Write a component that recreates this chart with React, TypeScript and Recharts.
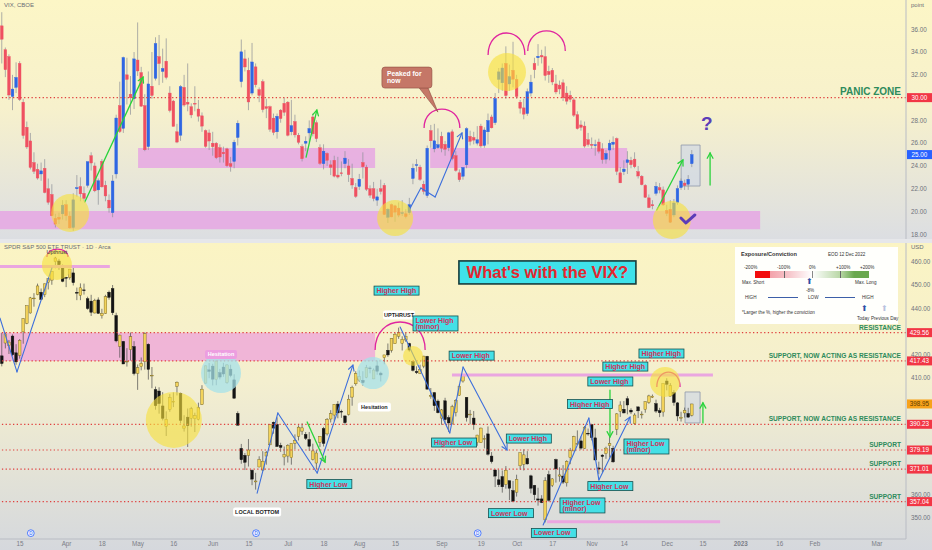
import React from "react";
import { ComposedChart, Bar, XAxis, YAxis, ReferenceLine, ReferenceArea, ReferenceDot } from "recharts";

type C = [number, number, number, number];

// daily candles [open, high, low, close]; first = 7 Mar 2022, last = 12 Dec 2022
// x is the trading-day index, 9 Mar 2022 = 0
const FIRST = -2;

const vixCandles: C[] = [
  // Mar
  [31.9, 37.0, 31.5, 36.45], [36.3, 37.5, 33.0, 35.13], [34.2, 34.4, 31.8, 32.45], [33.6, 33.8, 29.8, 30.23],
  [30.1, 32.0, 28.9, 30.75], [30.9, 33.1, 30.4, 31.77], [33.0, 33.2, 29.7, 29.83], [29.6, 29.9, 26.4, 26.67],
  [27.4, 27.9, 25.5, 25.67], [26.2, 26.9, 23.7, 23.87], [24.3, 25.2, 23.3, 23.53], [23.7, 24.2, 22.8, 22.94],
  [23.3, 24.3, 22.7, 23.57], [23.8, 24.6, 21.6, 21.67], [22.0, 22.9, 20.6, 20.81], [21.5, 22.4, 19.6, 19.63],
  [19.4, 19.8, 18.6, 18.9], [19.5, 19.9, 18.9, 19.33], [19.8, 21.0, 19.3, 20.56],
  // Apr
  [20.6, 21.0, 19.2, 19.63], [19.6, 20.0, 18.5, 18.57], [18.6, 21.6, 18.3, 21.03], [22.0, 23.2, 21.3, 22.1],
  [22.2, 23.0, 20.9, 21.55], [21.6, 22.2, 20.9, 21.16], [22.3, 24.4, 22.1, 24.37], [24.9, 25.2, 23.6, 24.26],
  [24.0, 24.3, 21.7, 21.82], [21.9, 22.9, 20.6, 22.7], [24.4, 24.6, 22.1, 22.17], [22.3, 22.7, 20.9, 21.37],
  [21.0, 21.5, 19.9, 20.32], [19.9, 23.2, 19.5, 22.68], [23.3, 28.5, 22.9, 28.21], [29.3, 31.4, 26.9, 27.02],
  [27.3, 33.6, 26.9, 33.52], [32.0, 33.5, 29.4, 31.6], [30.3, 31.9, 28.5, 29.99], [29.9, 34.0, 29.0, 33.4],
  // May
  [33.3, 36.6, 31.9, 32.34], [32.2, 32.7, 29.2, 29.25], [29.3, 30.3, 25.3, 25.42], [25.7, 32.3, 25.4, 31.2],
  [31.0, 34.0, 29.9, 30.19], [31.7, 35.3, 31.5, 34.75], [33.6, 35.5, 31.1, 32.99], [32.3, 34.3, 31.3, 32.56],
  [33.2, 35.2, 31.6, 31.77], [30.4, 31.0, 28.7, 28.87], [29.7, 29.8, 27.5, 27.47], [27.0, 27.7, 26.0, 26.1],
  [26.7, 31.1, 26.2, 30.96], [30.9, 32.0, 29.2, 29.35], [29.6, 33.0, 28.8, 29.43], [29.2, 29.5, 28.2, 28.48],
  [29.5, 31.0, 28.8, 29.45], [29.0, 29.8, 27.9, 28.37], [28.4, 28.7, 27.0, 27.5], [27.1, 27.2, 25.6, 25.72],
  [26.9, 27.2, 25.4, 26.19],
  // Jun
  [26.0, 27.0, 24.9, 25.69], [26.0, 26.1, 24.6, 24.72], [25.6, 25.9, 24.3, 24.79], [25.2, 25.7, 24.3, 25.07],
  [25.5, 25.6, 23.9, 24.02], [24.2, 24.8, 23.5, 23.96], [24.4, 26.3, 23.8, 26.09], [26.5, 28.0, 25.8, 27.75],
  [31.4, 35.1, 30.9, 34.02], [33.4, 34.2, 32.3, 32.69], [32.4, 33.5, 28.9, 29.62], [30.4, 34.8, 30.2, 33.13],
  [32.7, 33.0, 30.9, 31.13], [30.7, 30.9, 29.6, 30.19], [31.4, 31.6, 28.7, 28.95], [29.2, 29.9, 28.2, 29.05],
  [29.2, 29.3, 27.0, 27.23], [28.2, 28.6, 26.7, 26.95], [27.0, 28.6, 26.4, 28.36], [28.9, 29.0, 27.8, 28.16],
  [29.5, 30.0, 28.4, 28.71],
  // Jul
  [29.6, 29.7, 26.6, 26.7], [27.0, 29.8, 26.7, 27.54], [27.9, 28.5, 26.5, 26.73], [26.7, 26.9, 25.9, 26.08],
  [25.7, 25.9, 24.4, 24.64], [26.0, 26.6, 25.3, 26.17], [26.9, 28.0, 26.1, 27.29], [28.3, 28.6, 26.6, 26.82],
  [27.8, 28.0, 26.1, 26.4], [25.6, 25.9, 24.1, 24.23], [24.2, 25.9, 23.7, 25.3], [25.1, 25.2, 24.0, 24.5],
  [24.1, 24.5, 23.2, 23.88], [24.5, 24.9, 23.0, 23.11], [23.2, 24.8, 22.9, 23.03], [23.4, 24.4, 23.1, 23.36],
  [24.2, 25.3, 23.8, 24.69], [24.0, 24.6, 22.6, 23.24], [22.9, 24.2, 22.0, 22.33], [22.1, 22.5, 21.2, 21.33],
  // Aug
  [22.2, 23.3, 21.9, 22.84], [24.3, 25.2, 22.9, 23.93], [23.9, 24.1, 21.8, 21.95], [22.0, 22.3, 21.2, 21.44],
  [22.0, 22.6, 20.9, 21.15], [21.0, 22.0, 20.5, 21.29], [22.0, 22.8, 21.5, 21.77], [22.3, 22.5, 19.7, 19.74],
  [19.5, 20.3, 19.0, 20.2], [20.6, 20.7, 19.5, 19.53], [20.5, 20.6, 19.1, 19.95], [20.3, 20.8, 19.5, 19.69],
  [19.9, 21.0, 19.6, 19.9], [19.8, 20.2, 19.4, 19.56], [19.9, 21.2, 19.7, 20.6], [22.9, 24.2, 22.4, 23.8],
  [24.1, 24.6, 23.5, 24.11], [23.9, 24.1, 22.7, 22.82], [22.4, 22.7, 21.5, 21.78], [21.4, 25.8, 21.2, 25.56],
  [27.1, 27.6, 25.6, 26.21], [25.5, 27.7, 25.2, 26.21], [25.6, 27.3, 25.5, 25.87],
  // Sep
  [26.6, 27.0, 25.2, 25.56], [25.9, 26.2, 24.9, 25.47], [25.6, 27.0, 25.3, 26.91], [27.0, 27.2, 24.5, 24.64],
  [24.9, 25.3, 23.5, 23.61], [23.4, 23.7, 22.6, 22.79], [23.1, 23.9, 22.8, 23.87], [24.1, 27.4, 23.8, 27.27],
  [26.6, 27.1, 25.8, 26.16], [26.5, 27.0, 25.9, 26.27], [26.0, 27.5, 25.8, 26.3], [27.5, 27.7, 25.6, 25.76],
  [25.8, 27.4, 25.6, 27.16], [27.0, 28.6, 25.9, 27.99], [28.3, 28.5, 27.3, 27.35], [27.8, 30.4, 27.6, 29.92],
  [31.6, 32.6, 30.4, 32.26], [31.3, 33.0, 30.6, 32.6], [33.0, 34.5, 29.9, 30.18], [31.2, 32.9, 30.6, 31.84],
  [32.4, 34.9, 30.9, 31.62],
  // Oct
  [31.6, 32.0, 29.9, 30.1], [29.6, 29.8, 28.6, 29.07], [29.1, 29.9, 28.1, 28.55], [28.6, 30.8, 28.4, 30.52],
  [30.4, 32.0, 30.1, 31.36], [33.0, 33.5, 31.7, 32.45], [33.5, 34.7, 32.8, 33.63], [33.7, 34.2, 33.0, 33.57],
  [33.6, 34.5, 31.5, 31.94], [32.3, 32.8, 31.3, 32.02], [32.4, 32.6, 31.1, 31.37], [31.2, 32.0, 30.3, 30.5],
  [31.1, 31.5, 30.3, 30.76], [31.3, 31.6, 29.7, 29.98], [30.4, 31.0, 29.4, 29.69], [30.2, 30.6, 29.6, 29.85],
  [29.8, 30.0, 28.3, 28.46], [28.5, 28.8, 27.2, 27.28], [27.6, 28.0, 27.1, 27.39], [27.5, 27.9, 25.6, 25.75],
  [26.3, 26.9, 25.7, 25.88],
  // Nov
  [25.9, 26.5, 25.5, 25.81], [25.8, 26.3, 24.9, 25.86], [26.1, 26.4, 25.1, 25.3], [25.5, 26.0, 24.2, 24.55],
  [24.6, 25.4, 24.2, 25.1], [25.4, 26.3, 24.5, 26.0], [25.9, 26.6, 25.4, 26.09], [26.4, 26.5, 23.2, 23.53],
  [23.4, 23.9, 22.5, 22.52], [23.5, 24.5, 23.2, 23.73], [24.3, 25.3, 23.3, 24.54], [24.5, 24.8, 23.8, 24.11],
  [24.6, 25.2, 23.8, 23.93], [23.5, 24.0, 22.9, 23.12], [23.1, 23.2, 22.3, 22.36], [22.3, 22.4, 21.2, 21.25],
  [21.2, 21.5, 20.3, 20.35], [20.6, 21.0, 20.2, 20.5], [21.6, 22.6, 21.4, 22.21], [22.1, 22.5, 21.6, 21.89],
  [21.9, 22.2, 20.5, 20.58],
  // Dec
  [20.1, 20.6, 19.6, 19.84], [20.2, 21.0, 19.0, 19.06], [19.7, 21.1, 19.5, 20.75], [20.8, 22.3, 20.6, 22.01],
  [22.1, 22.9, 21.9, 22.68], [22.5, 22.8, 21.9, 22.29], [22.4, 23.2, 21.9, 22.83], [24.2, 25.4, 23.9, 25.0],
];

const spyCandles: C[] = [
  // Mar
  [431.6, 432.3, 419.4, 419.4], [419.6, 429.5, 415.1, 416.3], [425.1, 429.5, 422.8, 429.0], [424.0, 426.4, 420.4, 425.5],
  [428.1, 428.8, 419.5, 420.1], [420.9, 424.6, 415.8, 417.0], [419.8, 426.8, 418.4, 426.2], [429.9, 435.7, 424.8, 435.6],
  [433.6, 441.1, 433.2, 441.1], [438.0, 444.9, 437.7, 444.5], [444.3, 446.5, 440.7, 444.4], [445.9, 450.6, 445.6, 449.6],
  [446.9, 448.5, 443.7, 443.8], [445.9, 450.6, 444.8, 450.5], [451.2, 452.9, 448.1, 452.7], [452.1, 455.9, 450.1, 455.9],
  [460.0, 462.1, 457.2, 461.6], [460.3, 461.2, 456.5, 458.7], [457.9, 458.8, 451.2, 451.6],
  // Apr
  [453.3, 453.5, 449.1, 452.9], [453.1, 456.9, 452.3, 456.8], [455.2, 457.8, 449.8, 451.0], [446.9, 448.9, 443.5, 446.5],
  [445.6, 450.7, 443.5, 448.8], [447.9, 450.6, 445.9, 447.6], [444.1, 445.0, 439.4, 439.9], [443.1, 445.8, 436.7, 438.3],
  [438.0, 444.1, 437.8, 443.3], [443.6, 444.7, 437.7, 437.8], [436.8, 439.8, 435.6, 437.8], [437.9, 445.8, 437.7, 445.0],
  [446.9, 447.6, 443.7, 444.7], [448.5, 450.0, 437.1, 438.1], [436.9, 438.1, 425.4, 426.0], [423.7, 428.7, 418.8, 428.5],
  [425.8, 426.0, 416.1, 416.1], [417.2, 422.9, 415.0, 417.3], [422.3, 429.6, 417.6, 427.8], [423.6, 425.9, 411.2, 412.0],
  // May
  [412.1, 415.9, 405.0, 414.5], [415.0, 418.9, 413.4, 416.4], [417.1, 429.7, 413.7, 429.1], [424.6, 425.0, 409.4, 413.8],
  [411.1, 414.8, 405.7, 411.3], [405.1, 406.4, 396.5, 398.2], [404.5, 406.1, 394.8, 399.1], [398.1, 404.0, 391.9, 392.8],
  [389.4, 395.8, 385.2, 392.3], [396.7, 403.2, 395.6, 401.7], [399.9, 403.9, 397.6, 400.1], [406.5, 408.6, 402.6, 408.3],
  [403.5, 403.8, 390.6, 391.9], [388.6, 394.1, 387.1, 389.5], [393.3, 397.0, 380.5, 389.6], [392.8, 397.7, 389.2, 396.9],
  [392.6, 395.2, 386.9, 393.9], [392.3, 399.5, 391.9, 397.4], [398.7, 407.0, 398.5, 405.3], [407.9, 415.4, 407.7, 415.3],
  [413.6, 416.5, 410.0, 412.9],
  // Jun
  [415.2, 416.2, 406.9, 409.6], [409.4, 417.4, 407.0, 417.4], [412.4, 414.0, 409.5, 410.5], [414.8, 416.6, 410.6, 411.8],
  [408.1, 416.0, 407.6, 415.7], [413.9, 415.8, 410.4, 411.2], [409.3, 411.7, 401.4, 401.4], [394.9, 395.8, 389.8, 389.8],
  [379.9, 381.8, 373.3, 375.0], [376.9, 377.9, 370.6, 373.9], [376.9, 383.9, 372.1, 379.2], [370.5, 370.9, 364.1, 366.7],
  [365.5, 369.4, 362.2, 365.9], [371.9, 376.5, 371.8, 375.1], [370.6, 378.7, 370.2, 374.4], [376.6, 378.8, 372.9, 378.1],
  [381.4, 390.1, 381.4, 390.1], [391.1, 391.4, 386.2, 388.6], [390.2, 393.2, 380.5, 380.7], [381.2, 382.3, 378.4, 380.3],
  [376.2, 380.7, 372.6, 377.3],
  // Jul
  [376.6, 381.7, 373.8, 381.2], [375.9, 382.0, 372.9, 382.0], [382.1, 385.9, 379.6, 383.3], [385.1, 389.8, 383.3, 389.0],
  [387.3, 390.6, 385.7, 388.7], [385.9, 386.9, 383.5, 384.2], [383.7, 386.9, 378.8, 380.8], [375.1, 381.9, 374.7, 378.8],
  [373.6, 379.1, 371.0, 377.9], [382.5, 385.2, 380.5, 385.1], [388.4, 389.1, 380.7, 382.0], [386.1, 392.9, 385.4, 392.3],
  [392.5, 396.3, 391.0, 394.8], [394.2, 398.8, 391.6, 398.8], [398.9, 400.2, 392.8, 395.1], [395.8, 396.5, 393.0, 395.6],
  [393.8, 394.1, 389.9, 390.9], [394.4, 402.9, 394.0, 401.0], [401.9, 406.8, 398.2, 406.1], [407.6, 413.0, 406.8, 412.0],
  // Aug
  [409.2, 413.4, 408.4, 410.8], [409.1, 413.0, 406.8, 408.1], [410.3, 415.7, 410.0, 414.5], [414.4, 415.1, 412.1, 414.2],
  [409.7, 414.2, 409.6, 413.5], [415.3, 417.6, 411.5, 413.0], [412.2, 412.8, 408.6, 411.4], [418.8, 420.0, 416.0, 420.0],
  [422.0, 424.9, 419.2, 420.0], [422.0, 427.2, 421.0, 427.1], [424.8, 429.4, 424.7, 428.9], [428.0, 431.7, 426.9, 429.7],
  [425.0, 428.0, 421.9, 426.7], [426.4, 429.5, 425.6, 427.9], [424.9, 425.2, 421.4, 422.1], [417.1, 417.4, 412.9, 413.4],
  [412.9, 415.1, 411.8, 412.4], [412.1, 415.8, 411.8, 413.7], [415.2, 419.6, 414.3, 419.5], [419.4, 419.6, 405.3, 405.3],
  [402.2, 405.8, 401.2, 402.6], [403.8, 404.1, 396.0, 398.2], [400.2, 400.9, 394.9, 395.2],
  // Sep
  [392.9, 396.8, 390.0, 396.4], [400.3, 401.6, 390.3, 392.2], [393.1, 394.1, 386.9, 390.8], [390.4, 398.6, 390.2, 397.8],
  [395.3, 401.0, 393.6, 400.4], [402.7, 407.5, 402.5, 406.6], [408.8, 411.7, 408.1, 411.0], [401.8, 401.8, 391.4, 393.1],
  [394.5, 396.4, 390.2, 394.6], [392.9, 395.9, 387.9, 390.1], [382.3, 385.7, 381.0, 385.6], [382.3, 388.8, 382.2, 388.6],
  [384.0, 385.5, 379.9, 384.1], [386.1, 389.3, 376.8, 377.4], [376.6, 378.3, 373.4, 374.2], [370.6, 370.9, 363.3, 368.0],
  [366.4, 370.7, 363.3, 364.3], [367.8, 370.4, 360.9, 363.4], [364.4, 372.3, 362.6, 370.5], [366.0, 366.1, 357.7, 362.8],
  [361.8, 365.9, 357.0, 357.2],
  // Oct
  [361.1, 368.6, 359.2, 366.6], [372.4, 378.0, 370.8, 378.0], [373.1, 379.5, 370.4, 377.1], [375.6, 378.7, 373.0, 373.2],
  [368.1, 368.6, 360.6, 362.8], [364.0, 364.2, 357.7, 360.0], [358.2, 363.0, 355.3, 357.7], [358.2, 359.8, 356.4, 356.6],
  [349.2, 367.5, 348.1, 366.0], [368.6, 370.3, 357.0, 357.6], [364.0, 367.1, 363.3, 366.8], [375.1, 375.5, 365.2, 371.1],
  [368.0, 371.8, 365.6, 368.5], [368.0, 372.7, 364.6, 365.4], [365.1, 374.8, 363.5, 374.3], [375.9, 380.1, 373.1, 378.9],
  [378.8, 385.3, 378.7, 384.9], [381.6, 387.6, 381.4, 382.0], [383.1, 385.0, 379.3, 380.0], [379.9, 389.5, 379.7, 389.0],
  [386.4, 388.4, 385.3, 386.2],
  // Nov
  [390.1, 390.4, 383.3, 384.5], [384.4, 388.3, 374.8, 374.9], [371.5, 374.2, 368.8, 371.0], [377.0, 377.4, 369.6, 376.4],
  [377.7, 380.6, 375.4, 380.0], [381.1, 385.1, 375.9, 382.0], [379.9, 381.0, 373.7, 374.1], [388.1, 395.0, 385.6, 394.7],
  [395.8, 400.1, 393.4, 398.5], [396.7, 400.2, 394.9, 395.1], [401.2, 402.3, 394.5, 398.5], [396.3, 397.1, 394.6, 395.5],
  [390.5, 395.0, 390.0, 394.2], [397.7, 397.8, 392.9, 396.0], [394.6, 395.8, 392.7, 394.6], [396.6, 400.0, 395.2, 399.9],
  [399.6, 402.9, 399.0, 402.4], [401.8, 403.0, 401.5, 402.3], [399.1, 400.8, 395.1, 395.9], [396.1, 397.3, 393.3, 395.2],
  [395.5, 407.7, 393.5, 407.7],
  // Dec
  [408.8, 410.0, 404.8, 407.4], [402.3, 407.9, 402.3, 406.9], [403.9, 404.9, 398.2, 399.6], [399.4, 399.8, 391.6, 393.8],
  [392.9, 395.6, 391.4, 393.2], [395.1, 397.4, 393.1, 396.2], [394.9, 397.3, 393.1, 393.3], [394.1, 399.0, 393.6, 398.95],
];

const tickIndex = [4, 17, 27, 37, 47, 58, 68, 79, 89, 99, 109, 122, 133, 143, 153, 164, 173, 185, 195, 205.6, 216.5, 226.3, 243.7];
const tickLabels = ["15", "Apr", "18", "May", "16", "Jun", "15", "Jul", "18", "Aug", "15", "Sep", "19", "Oct", "17", "Nov", "14", "Dec", "15", "2023", "16", "Feb", "Mar"];

const vixTicks = [18, 20, 22, 24, 26, 28, 32, 34, 36];
const spyTicks = [350, 360, 410, 420, 440, 450, 460];

const vixPanic = 30;
const vixLast = 25.0;
const spyLast = 398.95;
const spyLevels = [429.56, 417.43, 390.23, 379.19, 371.01, 357.04];
const spyLevelNotes = ["RESISTANCE", "SUPPORT, NOW ACTING AS RESISTANCE", "SUPPORT, NOW ACTING AS RESISTANCE", "SUPPORT", "SUPPORT", "SUPPORT"];
const dividendDays = [7, 70, 132];

// drawings (x = trading-day index, y = price)
const vixZones = [[-1.7, 211, 18.45, 20.05], [37, 103.3, 23.82, 25.58], [118.7, 173.8, 23.82, 25.58]];
const vixCircles = [[18, 19.87, 19], [108.9, 19.43, 18], [140.2, 32.25, 19], [186.3, 19.26, 19]];
const vixGreen = [
  [[22.1, 20.84], [38.4, 31.8]],
  [[84, 24.78], [87, 28.9]],
  [[182.1, 20.13], [189.4, 24.52]],
  [[197, 22.33], [197, 25.14]],
];
const vixBlue = [[[113.1, 20.3], [116.1, 22.07], [120.1, 21.28], [127.6, 26.9]]];
const vixArcs = [[117, 127, 27.33, 19], [134.9, 145.2, 33.74, 22], [146, 156.5, 34.1, 20]];

const spyBands = [[-1.7, 29.1, 457.9], [124.8, 197.8, 411.4], [151.4, 199.8, 348.4]];
const spyYellow = [[14.3, 458.6, 15], [47, 392.1, 28], [184.4, 408.4, 15], [113.9, 419.5, 10]];
const spyCyan = [[60.2, 412.2, 20], [102.7, 412.2, 16]];
const spyArcs = [[11.5, 17.4, 462, 8], [103.3, 117.3, 422.1, 28], [182.1, 188.6, 406.2, 15]];
const spyBlue = [
  [[-1.62, 435.8], [3.13, 412.7], [12.9, 457.3]],
  [[70.3, 360.7], [76.1, 395.1], [87.1, 369.3], [97.1, 415.6]],
  [[110.3, 432], [124.2, 386.5], [127.9, 414.8], [140.2, 379.2]],
  [[150.3, 347], [163.1, 392.9], [165.9, 366.3], [174.6, 393.3]],
];
const spyGreen = [
  [[84.3, 391.2], [89.3, 374.0]],
  [[169, 404.9], [169, 384.8]],
  [[195, 390.8], [195, 399.4]],
];
const spyTags: [string[], number, number][] = [
  [["Higher High"], 109.3, 447.6],
  [["Lower High", "(minor)"], 120.2, 433.5],
  [["Lower High"], 130.3, 419.7],
  [["Higher Low"], 125.4, 382.4],
  [["Lower High"], 146.3, 384.1],
  [["Higher Low"], 90.5, 364.6],
  [["Lower Low"], 141.3, 352.1],
  [["Lower Low"], 153.3, 343.6],
  [["Higher Low", "(minor)"], 161.3, 355.4],
  [["Higher High"], 163.4, 398.9],
  [["Higher Low"], 169.1, 363.7],
  [["Higher Low", "(minor)"], 179.2, 380.7],
  [["Lower High"], 169.1, 408.6],
  [["Higher High"], 173.3, 415.0],
  [["Higher High"], 183.4, 420.6],
];
const spyNotes: [string, number, number, number][] = [
  ["UPTHRUST", 110, 437.1, 32],
  ["Hesitation", 103.1, 397.6, 33],
  ["LOCAL BOTTOM", 70.3, 352.6, 48],
];

const X_MIN = -1.62;
const X_MAX = 251.8;
const W = 932;
const TOP_H = 239;
const BOT_H = 307;
const AXIS_W = 26;
const FONT = "'Liberation Sans', Arial, sans-serif";

const rows = (cs: C[]) => cs.map(([o, h, l, c], k) => ({ i: FIRST + k, o, h, l, c }));
const vixData = rows(vixCandles);
const spyData = rows(spyCandles);

const makeCandle = (up: string, down: string, wick: string, edgeUp: string, edgeDown: string) => (props: any) => {
  const { x, y, width, height, payload } = props;
  if (!payload || x == null) return <g />;
  const { o, h, l, c } = payload;
  const top = Math.min(y, y + height);
  const hgt = Math.abs(height);
  const span = h - l;
  const at = (v: number) => (span > 0 ? top + ((h - v) / span) * hgt : top);
  const mid = x + width / 2;
  const bTop = at(Math.max(o, c));
  const bH = Math.max(at(Math.min(o, c)) - bTop, 0.8);
  const rising = c >= o;
  return (
    <g>
      <line x1={mid} x2={mid} y1={top} y2={top + hgt} stroke={wick} strokeWidth={0.7} />
      <rect x={x} y={bTop} width={width} height={bH} fill={rising ? up : down} stroke={rising ? edgeUp : edgeDown} strokeWidth={0.4} />
    </g>
  );
};

const vixCandle = makeCandle("#2f66e3", "#ef5061", "#8c8f98", "#2f66e3", "#ef5061");
const spyCandle = makeCandle("#f3d35b", "#141414", "#4a4a4a", "#6b5a14", "#141414");

const segShape = (color: string, head: boolean, sw = 1.1) => (p: any) => {
  const { x1, y1, x2, y2 } = p;
  const a = Math.atan2(y2 - y1, x2 - x1);
  const L = 6;
  const h1 = [x2 - L * Math.cos(a - 0.5), y2 - L * Math.sin(a - 0.5)];
  const h2 = [x2 - L * Math.cos(a + 0.5), y2 - L * Math.sin(a + 0.5)];
  return (
    <g>
      <line x1={x1} y1={y1} x2={x2} y2={y2} stroke={color} strokeWidth={sw} strokeLinecap="round" />
      {head && (
        <path d={`M${h1[0]},${h1[1]} L${x2},${y2} L${h2[0]},${h2[1]}`} fill="none" stroke={color} strokeWidth={sw} strokeLinecap="round" />
      )}
    </g>
  );
};

const arcShape = (bulge: number) => (p: any) => {
  const { x1, y1, x2, y2 } = p;
  const k = (bulge * 4) / 3;
  return <path d={`M${x1},${y1} C${x1},${y1 - k} ${x2},${y2 - k} ${x2},${y2}`} fill="none" stroke="#e0259f" strokeWidth={1.3} />;
};

const tagShape = (lines: string[]) => (p: any) => {
  const { cx, cy } = p;
  const h = lines.length > 1 ? 15 : 9;
  const w = 45;
  return (
    <g>
      <rect x={cx - w / 2} y={cy - h / 2} width={w} height={h} fill="#44e0e6" stroke="#14504f" strokeWidth={0.8} />
      {lines.map((t, k) => (
        <text key={k} x={cx - w / 2 + 2.5} y={cy - h / 2 + 7 + k * 6.3} fontSize={7} fontWeight={700} fill="#d3305a" fontFamily={FONT}>
          {t}
        </text>
      ))}
    </g>
  );
};

const noteShape = (text: string, w: number, fill = "#ffffff", color = "#222") => (p: any) => {
  const { cx, cy } = p;
  return (
    <g>
      <rect x={cx - w / 2} y={cy - 4.5} width={w} height={9} rx={2} fill={fill} />
      <text x={cx} y={cy + 2} textAnchor="middle" fontSize={5.5} fontWeight={700} fill={color} fontFamily={FONT}>
        {text}
      </text>
    </g>
  );
};

const priceBox = (text: string, fill: string, color = "#fff") => (p: any) => {
  const { cx, cy } = p;
  return (
    <g>
      <rect x={cx + 1} y={cy - 4.5} width={AXIS_W - 1} height={9} fill={fill} />
      <text x={cx + 1 + (AXIS_W - 1) / 2} y={cy + 2.2} textAnchor="middle" fontSize={6.3} fill={color} fontFamily={FONT}>
        {text}
      </text>
    </g>
  );
};

const sideNote = (text: string, size = 6.6) => (p: any) => (
  <text x={p.cx - 5} y={p.cy - 3} textAnchor="end" fontSize={size} fontWeight={700} fill="#2e8b5c" fontFamily={FONT}>
    {text}
  </text>
);

const circleShape = (r: number, fill: string, op: number) => (p: any) => <circle cx={p.cx} cy={p.cy} r={r} fill={fill} fillOpacity={op} />;

const renderPath = (pts: number[][], color: string, head: boolean, key: string, sw = 1.1) =>
  pts.slice(1).map((pt, k) => (
    <ReferenceLine
      key={`${key}-${k}`}
      segment={[{ x: pts[k][0], y: pts[k][1] }, { x: pt[0], y: pt[1] }]}
      ifOverflow="visible"
      shape={segShape(color, head && k === pts.length - 2, sw)}
    />
  ));

const DateTick = (props: any) => {
  const { x, y, payload } = props;
  const k = tickIndex.indexOf(payload.value);
  const label = k >= 0 ? tickLabels[k] : "";
  return (
    <text x={x} y={y + 5} textAnchor="middle" fontSize={6.3} fill="#7b7e87" fontWeight={label === "2023" ? 700 : 400} fontFamily={FONT}>
      {label}
    </text>
  );
};

const axisTick = { fontSize: 6.3, fill: "#6f727c", fontFamily: FONT };

const VixPane = () => (
  <ComposedChart width={W} height={TOP_H} data={vixData} margin={{ top: 0, right: 0, bottom: 0, left: 0 }}>
    <XAxis dataKey="i" type="number" domain={[X_MIN, X_MAX]} allowDataOverflow hide />
    <YAxis
      orientation="right"
      width={AXIS_W}
      domain={[17.59, 38.57]}
      allowDataOverflow
      ticks={vixTicks}
      tickFormatter={(v: number) => v.toFixed(2)}
      tick={axisTick}
      tickLine={false}
      tickSize={3}
      tickMargin={2}
      axisLine={{ stroke: "#b9bcc4" }}
    />
    {vixZones.map(([x1, x2, y1, y2], k) => (
      <ReferenceArea key={`z${k}`} x1={x1} x2={x2} y1={y1} y2={y2} fill="#e6a3e3" fillOpacity={0.8} stroke="none" ifOverflow="visible" />
    ))}
    <ReferenceArea x1={188.9} x2={194.2} y1={22.24} y2={25.84} fill="#c9d4ea" fillOpacity={0.55} stroke="#8d97aa" strokeWidth={0.8} ifOverflow="visible" />
    <Bar dataKey={(d: any) => [d.l, d.h]} barSize={2.7} shape={vixCandle} isAnimationActive={false} />
    <ReferenceLine y={vixPanic} stroke="#e0403f" strokeWidth={1.2} strokeDasharray="1.3 2.4" />
    {vixCircles.map(([x, y, r], k) => (
      <ReferenceDot key={`c${k}`} x={x} y={y} r={r} ifOverflow="visible" shape={circleShape(r, "#f7e13c", 0.62)} />
    ))}
    {vixGreen.map((pts, k) => renderPath(pts, "#29d33b", true, `g${k}`, 1.3))}
    {vixBlue.map((pts, k) => renderPath(pts, "#3d6fdc", true, `b${k}`))}
    {vixArcs.map(([x1, x2, y, b], k) => (
      <ReferenceLine key={`a${k}`} segment={[{ x: x1, y }, { x: x2, y }]} ifOverflow="visible" shape={arcShape(b)} />
    ))}
    <ReferenceDot
      x={112.2}
      y={31.76}
      r={1}
      ifOverflow="visible"
      shape={(p: any) => (
        <g>
          <path d={`M${p.cx + 12},${p.cy + 10} L${p.cx + 21},${p.cy + 10} L${p.cx + 31},${p.cy + 34.5} Z`} fill="#c57767" stroke="#8b4a3e" strokeWidth={0.6} />
          <rect x={p.cx - 25} y={p.cy - 10.5} width={50} height={21} rx={3} fill="#c57767" stroke="#8b4a3e" strokeWidth={0.6} />
          <text x={p.cx - 20} y={p.cy - 2} fontSize={6.8} fontWeight={700} fill="#fff" fontFamily={FONT}>Peaked for</text>
          <text x={p.cx - 20} y={p.cy + 5.5} fontSize={6.8} fontWeight={700} fill="#fff" fontFamily={FONT}>now</text>
        </g>
      )}
    />
    <ReferenceDot
      x={196.1}
      y={27.68}
      r={1}
      ifOverflow="visible"
      shape={(p: any) => (
        <text x={p.cx} y={p.cy + 6} textAnchor="middle" fontSize={19} fontWeight={900} fill="#5b3cb8" fontFamily={FONT}>?</text>
      )}
    />
    <ReferenceDot
      x={190.8}
      y={19.26}
      r={1}
      ifOverflow="visible"
      shape={(p: any) => (
        <path d={`M${p.cx - 7},${p.cy - 2} L${p.cx - 2},${p.cy + 3} L${p.cx + 7},${p.cy - 5}`} fill="none" stroke="#5b3cb8" strokeWidth={3} strokeLinecap="round" strokeLinejoin="round" />
      )}
    />
    <ReferenceDot x={X_MAX} y={vixPanic} r={1} ifOverflow="visible" shape={sideNote("PANIC ZONE", 10)} />
    <ReferenceDot x={X_MAX} y={vixPanic} r={1} ifOverflow="visible" shape={priceBox("30.00", "#f23645")} />
    <ReferenceDot x={X_MAX} y={vixLast} r={1} ifOverflow="visible" shape={priceBox("25.00", "#2962ff")} />
  </ComposedChart>
);

const SpyPane = () => (
  <ComposedChart width={W} height={BOT_H} data={spyData} margin={{ top: 0, right: 0, bottom: 0, left: 0 }}>
    <XAxis
      dataKey="i"
      type="number"
      domain={[X_MIN, X_MAX]}
      allowDataOverflow
      ticks={tickIndex}
      interval={0}
      tick={<DateTick />}
      tickLine={false}
      tickSize={0}
      height={11}
      axisLine={{ stroke: "#b9bcc4" }}
    />
    <YAxis
      orientation="right"
      width={AXIS_W}
      domain={[341, 468.03]}
      allowDataOverflow
      ticks={spyTicks}
      tickFormatter={(v: number) => v.toFixed(2)}
      tick={axisTick}
      tickLine={false}
      tickSize={3}
      tickMargin={2}
      axisLine={{ stroke: "#b9bcc4" }}
    />
    <ReferenceArea x1={-1.7} x2={103.3} y1={spyLevels[1]} y2={spyLevels[0]} fill="#eeaad8" fillOpacity={0.85} stroke="none" ifOverflow="visible" />
    <ReferenceArea x1={190} x2={194.2} y1={390.8} y2={404.1} fill="#c9d4ea" fillOpacity={0.55} stroke="#8d97aa" strokeWidth={0.8} ifOverflow="visible" />
    {spyBands.map(([x1, x2, y], k) => (
      <ReferenceLine key={`pb${k}`} segment={[{ x: x1, y }, { x: x2, y }]} stroke="#eaa6e0" strokeWidth={3} ifOverflow="visible" />
    ))}
    {spyCyan.map(([x, y, r], k) => (
      <ReferenceDot key={`cy${k}`} x={x} y={y} r={r} ifOverflow="visible" shape={circleShape(r, "#a6e2ea", 0.75)} />
    ))}
    <Bar dataKey={(d: any) => [d.l, d.h]} barSize={2.7} shape={spyCandle} isAnimationActive={false} />
    {spyLevels.map((v, k) => (
      <ReferenceLine key={`lv${k}`} y={v} stroke="#e0403f" strokeWidth={1.2} strokeDasharray="1.3 2.4" />
    ))}
    {spyYellow.map(([x, y, r], k) => (
      <ReferenceDot key={`yc${k}`} x={x} y={y} r={r} ifOverflow="visible" shape={circleShape(r, "#f7e13c", 0.62)} />
    ))}
    {spyBlue.map((pts, k) => renderPath(pts, "#3d6fdc", k > 0, `sb${k}`))}
    {spyGreen.map((pts, k) => renderPath(pts, "#29d33b", true, `sg${k}`, 1.3))}
    {spyArcs.map(([x1, x2, y, b], k) => (
      <ReferenceLine key={`sa${k}`} segment={[{ x: x1, y }, { x: x2, y }]} ifOverflow="visible" shape={arcShape(b)} />
    ))}
    <ReferenceDot
      x={14.3}
      y={464}
      r={1}
      ifOverflow="visible"
      shape={(p: any) => (
        <text x={p.cx} y={p.cy + 2} textAnchor="middle" fontSize={5.5} fill="#333" fontFamily={FONT}>Upthrust</text>
      )}
    />
    <ReferenceDot x={60.2} y={420.2} r={1} ifOverflow="visible" shape={noteShape("Hesitation", 32, "#ec9ee0", "#fff")} />
    {spyNotes.map(([t, x, y, w], k) => (
      <ReferenceDot key={`n${k}`} x={x} y={y} r={1} ifOverflow="visible" shape={noteShape(t, w)} />
    ))}
    {spyTags.map(([lines, x, y], k) => (
      <ReferenceDot key={`t${k}`} x={x} y={y} r={1} ifOverflow="visible" shape={tagShape(lines)} />
    ))}
    <ReferenceDot
      x={151.5}
      y={455.4}
      r={1}
      ifOverflow="visible"
      shape={(p: any) => (
        <g>
          <rect x={p.cx - 88.5} y={p.cy - 11.5} width={177} height={23} fill="#3fe2ea" stroke="#163c3c" strokeWidth={1.6} />
          <text x={p.cx} y={p.cy + 6} textAnchor="middle" fontSize={16.5} fontWeight={700} fill="#e3262e" fontFamily={FONT}>
            What's with the VIX?
          </text>
        </g>
      )}
    />
    {dividendDays.map((d, k) => (
      <ReferenceDot
        key={`d${k}`}
        x={d}
        y={343.5}
        r={3.5}
        ifOverflow="visible"
        shape={(p: any) => (
          <g>
            <circle cx={p.cx} cy={p.cy} r={3.4} fill="#eef1fb" stroke="#2962ff" strokeWidth={0.8} />
            <text x={p.cx} y={p.cy + 1.6} textAnchor="middle" fontSize={4.5} fill="#2962ff" fontFamily={FONT}>D</text>
          </g>
        )}
      />
    ))}
    {spyLevels.map((v, k) => (
      <ReferenceDot key={`sn${k}`} x={X_MAX} y={v} r={1} ifOverflow="visible" shape={sideNote(spyLevelNotes[k])} />
    ))}
    {spyLevels.map((v, k) => (
      <ReferenceDot key={`pbx${k}`} x={X_MAX} y={v} r={1} ifOverflow="visible" shape={priceBox(v.toFixed(2), "#f23645")} />
    ))}
    <ReferenceDot x={X_MAX} y={spyLast} r={1} ifOverflow="visible" shape={priceBox(spyLast.toFixed(2), "#f7a21b", "#5a3a00")} />
  </ComposedChart>
);

const t = (s: React.CSSProperties): React.CSSProperties => ({ position: "absolute", whiteSpace: "nowrap", ...s });

const ConvictionPanel = () => (
  <div style={t({ left: 735, top: 247, width: 163, height: 77, background: "rgba(255,255,255,0.95)", fontSize: 4.6, color: "#333" })}>
    <div style={t({ left: 6, top: 4, fontSize: 5.6, fontWeight: 700 })}>Exposure/Conviction</div>
    <div style={t({ left: 93, top: 5 })}>EOD 12 Dec 2022</div>
    <div style={t({ left: 9, top: 18 })}>-200%</div>
    <div style={t({ left: 42, top: 18 })}>-100%</div>
    <div style={t({ left: 74, top: 18 })}>0%</div>
    <div style={t({ left: 101, top: 18 })}>+100%</div>
    <div style={t({ left: 125, top: 18 })}>+200%</div>
    <div
      style={t({
        left: 20,
        top: 24,
        width: 114,
        height: 7,
        background:
          "linear-gradient(90deg, #f20d0d 0%, #f20d0d 13%, #f3a2aa 13%, #f6c6cb 30%, #ffffff 50%, #dcebd3 62%, #b9d7a5 75%, #6aa84f 87%, #6aa84f 100%)",
      })}
    />
    <div style={t({ left: 49, top: 24, width: 1, height: 7, background: "#666" })} />
    <div style={t({ left: 77, top: 24, width: 1, height: 7, background: "#888" })} />
    <div style={t({ left: 105, top: 24, width: 1, height: 7, background: "#666" })} />
    <div style={t({ left: 7, top: 33 })}>Max. Short</div>
    <div style={t({ left: 120, top: 33 })}>Max. Long</div>
    <div style={t({ left: 71, top: 31, fontSize: 8, color: "#2f4fa6", lineHeight: "8px" })}>⬆</div>
    <div style={t({ left: 71, top: 41 })}>-8%</div>
    <div style={t({ left: 10, top: 48 })}>HIGH</div>
    <div style={t({ left: 33, top: 50, width: 30, height: 0.8, background: "#3d5fa8" })} />
    <div style={t({ left: 73, top: 48 })}>LOW</div>
    <div style={t({ left: 90, top: 50, width: 30, height: 0.8, background: "#3d5fa8" })} />
    <div style={t({ left: 127, top: 48 })}>HIGH</div>
    <div style={t({ left: 7, top: 63 })}>*Larger the %, higher the conviction</div>
    <div style={t({ left: 126, top: 58, fontSize: 8, color: "#2f4fa6", lineHeight: "8px" })}>⬆</div>
    <div style={t({ left: 146, top: 58, fontSize: 8, color: "#b9c3df", lineHeight: "8px" })}>⬆</div>
    <div style={t({ left: 122, top: 69 })}>Today</div>
    <div style={t({ left: 136, top: 69 })}>Previous Day</div>
  </div>
);

export default function App() {
  return (
    <div style={{ position: "absolute", left: 0, top: 0, width: W, height: 550, overflow: "hidden", fontFamily: FONT }}>
      <div style={t({ left: 0, top: 0, width: W, height: TOP_H, background: "linear-gradient(180deg, #fcf6c6 0%, #f7f1cc 45%, #dcdee2 100%)" })}>
        <VixPane />
      </div>
      <div style={t({ left: 0, top: TOP_H, width: W, height: 4, background: "#e6e7ea" })} />
      <div style={t({ left: 0, top: 243, width: W, height: BOT_H, background: "linear-gradient(180deg, #fbf4c3 0%, #f4efcf 45%, #d5d8dd 100%)" })}>
        <SpyPane />
      </div>
      <div style={t({ left: 4, top: 2, fontSize: 6, color: "#6a6d76" })}>VIX, CBOE</div>
      <div style={t({ left: 911, top: 2, fontSize: 6, color: "#6a6d76" })}>point</div>
      <div style={t({ left: 4, top: 244, fontSize: 6, color: "#6a6d76" })}>SPDR S&amp;P 500 ETF TRUST · 1D · Arca</div>
      <div style={t({ left: 911, top: 244, fontSize: 6, color: "#6a6d76" })}>USD</div>
      <ConvictionPanel />
    </div>
  );
}
